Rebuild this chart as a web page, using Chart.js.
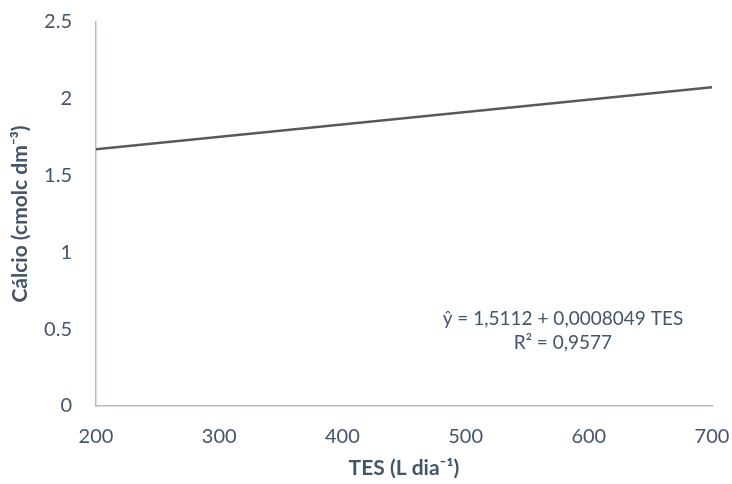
<!DOCTYPE html>
<html>
<head>
<meta charset="utf-8">
<script src="https://cdn.jsdelivr.net/npm/chart.js@4"></script>
<style>
  html, body { margin: 0; padding: 0; background: #fff; }
  #wrap { width: 732px; height: 484px; }
</style>
</head>
<body>
<div id="wrap"><canvas id="c" width="732" height="484"></canvas></div>
<script>
// values
const tesValues = [200, 700];
const calcioValues = [1.672, 2.075];
const xTicks = [200, 300, 400, 500, 600, 700];
const yTicks = [0, 0.5, 1, 1.5, 2, 2.5];
const equationLines = ['ŷ = 1,5112 + 0,0008049 TES', 'R² = 0,9577'];
// where the equation sits, in data units
const equationPos = { x: 579, y: [0.57, 0.41] };

const textColor = '#44546a';
const axisColor = '#b4bccc';

// draws the regression equation on top of the plot
const equationPlugin = {
  id: 'equation',
  afterDatasetsDraw(chart) {
    const { ctx, scales } = chart;
    ctx.save();
    ctx.font = '19px Lato';
    ctx.fillStyle = textColor;
    ctx.textAlign = 'center';
    ctx.textBaseline = 'middle';
    const px = scales.x.getPixelForValue(equationPos.x);
    equationLines.forEach((line, i) => {
      ctx.fillText(line, px, scales.y.getPixelForValue(equationPos.y[i]));
    });
    ctx.restore();
  }
};

new Chart(document.getElementById('c'), {
  type: 'scatter',
  data: {
    datasets: [{
      data: tesValues.map((x, i) => ({ x, y: calcioValues[i] })),
      showLine: true,
      borderColor: '#595959',
      borderWidth: 2.5,
      pointRadius: 0,
      fill: false
    }]
  },
  options: {
    responsive: false,
    animation: false,
    layout: { padding: { top: 22, right: 20, left: 0, bottom: 0 } },
    plugins: { legend: { display: false }, tooltip: { enabled: false } },
    scales: {
      x: {
        type: 'linear',
        min: 200,
        max: 700,
        afterBuildTicks: axis => { axis.ticks = xTicks.map(v => ({ value: v })); },
        afterFit: axis => { axis.height = 78; },
        // tick marks hidden, but their length spaces the labels off the axis
        grid: { display: false, drawTicks: true, tickLength: 19 },
        border: { display: true, color: axisColor, width: 1.5 },
        ticks: { color: textColor, font: { family: 'Lato', size: 20 }, padding: 0, maxRotation: 0 },
        title: {
          display: true,
          text: 'TES (L dia⁻¹)',
          color: textColor,
          font: { family: 'Lato', size: 21, weight: 'bold' },
          padding: { top: 0, bottom: 3 }
        }
      },
      y: {
        min: 0,
        max: 2.5,
        afterBuildTicks: axis => { axis.ticks = yTicks.map(v => ({ value: v })); },
        afterFit: axis => { axis.width = 96; },
        grid: { display: false, drawTicks: true, tickLength: 24 },
        border: { display: true, color: axisColor, width: 1.5 },
        ticks: { color: textColor, font: { family: 'Lato', size: 20 }, padding: 0, callback: v => String(v) },
        title: {
          display: true,
          text: 'Cálcio (cmolc dm⁻³)',
          color: textColor,
          font: { family: 'Lato', size: 21, weight: 'bold' },
          padding: { top: 8, bottom: 0 }
        }
      }
    }
  },
  plugins: [equationPlugin]
});
</script>
</body>
</html>
